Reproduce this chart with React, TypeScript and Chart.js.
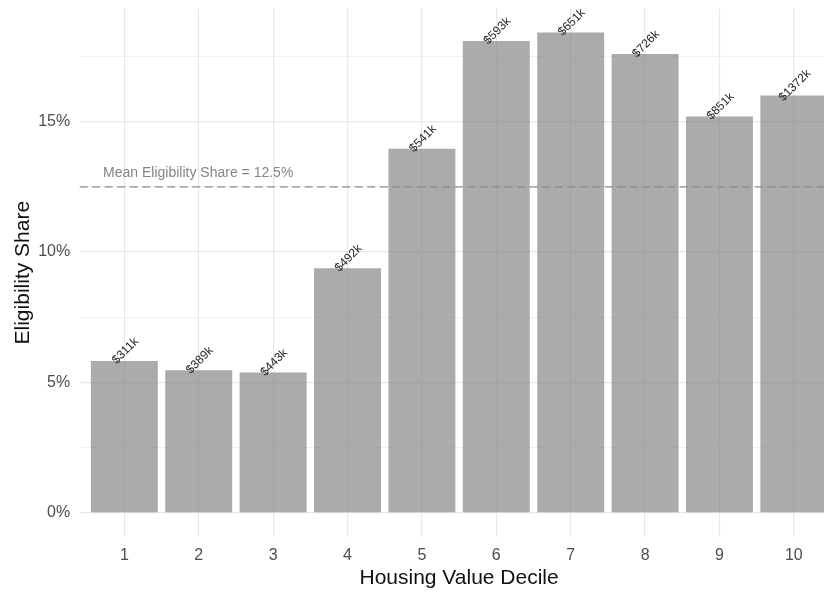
import React, { useEffect, useRef } from "react";
import { Chart, registerables } from "chart.js";

Chart.register(...registerables);

const DECILES = [1, 2, 3, 4, 5, 6, 7, 8, 9, 10];
const ELIGIBILITY_SHARE = [5.83, 5.47, 5.38, 9.38, 13.96, 18.09, 18.42, 17.59, 15.2, 16.0];
const PRICE_LABELS = ["$311k", "$389k", "$443k", "$492k", "$541k", "$593k", "$651k", "$726k", "$851k", "$1372k"];
const Y_TICKS = [0, 2.5, 5, 7.5, 10, 12.5, 15, 17.5];
const MEAN_SHARE = 12.5;
const MEAN_LABEL = "Mean Eligibility Share = 12.5%";
const MEAN_LABEL_X = 0.714;
const MEAN_LABEL_Y = 13.03;

const FONT = "'Liberation Sans', Arial, Helvetica, sans-serif";

const overlayPlugin = {
  id: "overlay",
  afterDatasetsDraw(chart: any) {
    const ctx = chart.ctx;
    const xs = chart.scales.x;
    const ys = chart.scales.y;
    const area = chart.chartArea;
    ctx.save();
    // mean line
    const my = ys.getPixelForValue(MEAN_SHARE);
    ctx.setLineDash([8, 4.5]);
    ctx.strokeStyle = "#8a8a8a";
    ctx.lineWidth = 1.4;
    ctx.beginPath();
    ctx.moveTo(area.left, my);
    ctx.lineTo(area.right, my);
    ctx.stroke();
    ctx.setLineDash([]);
    // mean label
    ctx.font = `14px ${FONT}`;
    ctx.fillStyle = "#858585";
    ctx.textAlign = "left";
    ctx.textBaseline = "middle";
    ctx.fillText(MEAN_LABEL, xs.getPixelForValue(MEAN_LABEL_X), ys.getPixelForValue(MEAN_LABEL_Y));
    // bar labels
    const meta = chart.getDatasetMeta(0);
    ctx.font = `12px ${FONT}`;
    ctx.fillStyle = "#262626";
    ctx.textAlign = "center";
    ctx.textBaseline = "middle";
    meta.data.forEach((bar: any, i: number) => {
      ctx.save();
      ctx.translate(bar.x + 1, bar.y - 10);
      ctx.rotate((-45 * Math.PI) / 180);
      ctx.fillText(PRICE_LABELS[i], 0, 0);
      ctx.restore();
    });
    ctx.restore();
  },
};

export default function App() {
  const ref = useRef<HTMLCanvasElement>(null);

  useEffect(() => {
    document.body.style.margin = "0";
    document.body.style.overflow = "hidden";
    const maxVal = Math.max(...ELIGIBILITY_SHARE);
    const pad = maxVal * 0.05;
    const chart = new Chart(ref.current as HTMLCanvasElement, {
      type: "bar",
      data: {
        datasets: [
          {
            data: DECILES.map((d, i) => ({ x: d, y: ELIGIBILITY_SHARE[i] })),
            backgroundColor: "rgba(128,128,128,0.66)",
            borderWidth: 0,
            barPercentage: 0.9,
            categoryPercentage: 1,
          },
        ],
      },
      options: {
        responsive: false,
        animation: false,
        devicePixelRatio: 1,
        layout: { padding: { top: 8.4, right: 1.5, bottom: 0, left: 0 } },
        plugins: {
          legend: { display: false },
          tooltip: { enabled: false },
        },
        scales: {
          x: {
            type: "linear",
            offset: false,
            min: 0.4,
            max: 10.6,
            afterBuildTicks: (scale: any) => {
              scale.ticks = DECILES.map((v) => ({ value: v }));
            },
            afterFit: (scale: any) => {
              scale.height = 56;
              scale.paddingLeft = 0;
              scale.paddingRight = 0;
            },
            border: { display: false },
            grid: { color: "#e8e8e8", lineWidth: 1.2, drawTicks: false, offset: false },
            ticks: {
              padding: 9,
              color: "#4d4d4d",
              font: { family: FONT, size: 16 },
              callback: (v: any) => String(v),
              maxRotation: 0,
              autoSkip: false,
            },
            title: {
              display: true,
              text: "Housing Value Decile",
              color: "#111111",
              font: { family: FONT, size: 21 },
              padding: { top: 0, bottom: 2 },
            },
          },
          y: {
            type: "linear",
            min: -pad,
            max: maxVal + pad,
            afterBuildTicks: (scale: any) => {
              scale.ticks = Y_TICKS.map((v) => ({ value: v }));
            },
            afterFit: (scale: any) => {
              scale.width = 79.7;
              scale.paddingTop = 0;
              scale.paddingBottom = 0;
            },
            border: { display: false },
            grid: {
              drawTicks: false,
              color: (c: any) => (c.tick && c.tick.value % 5 === 0 ? "#e8e8e8" : "#eeeeee"),
              lineWidth: (c: any) => (c.tick && c.tick.value % 5 === 0 ? 1.2 : 0.8),
            },
            ticks: {
              padding: 9.5,
              color: "#4d4d4d",
              font: { family: FONT, size: 16 },
              autoSkip: false,
              callback: (v: any) => (Number(v) % 5 === 0 ? `${v}%` : ""),
            },
            title: {
              display: true,
              text: "Eligibility Share",
              color: "#111111",
              font: { family: FONT, size: 21 },
              padding: { top: 11, bottom: 0 },
            },
          },
        },
      },
      plugins: [overlayPlugin],
    } as any);
    return () => chart.destroy();
  }, []);

  return (
    <div style={{ position: "fixed", left: 0, top: 0, width: 824, height: 593, overflow: "hidden", background: "#fff" }}>
      <canvas ref={ref} width={840} height={593} style={{ width: 840, height: 593, display: "block" }} />
    </div>
  );
}
